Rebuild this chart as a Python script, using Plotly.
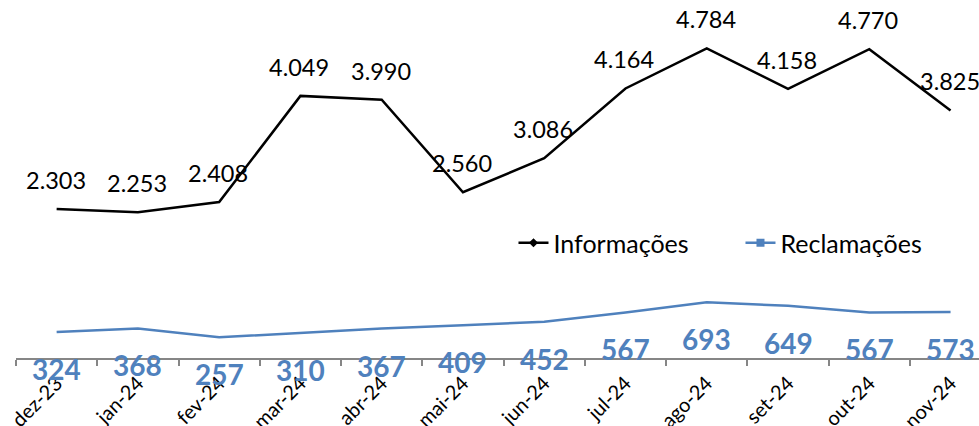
import plotly.graph_objects as go

months = ["dez-23", "jan-24", "fev-24", "mar-24", "abr-24", "mai-24",
          "jun-24", "jul-24", "ago-24", "set-24", "out-24", "nov-24"]
informacoes = [2303, 2253, 2408, 4049, 3990, 2560, 3086, 4164, 4784, 4158, 4770, 3825]
reclamacoes = [324, 368, 257, 310, 367, 409, 452, 567, 693, 649, 567, 573]

BLACK = "#000000"
BLUE = "#4F81BD"
FONT = "Lato"

def fmt(v):
    return f"{v:,}".replace(",", ".")

fig = go.Figure()
fig.add_trace(go.Scatter(x=months, y=informacoes, mode="lines", name="Informações",
                         line=dict(color=BLACK, width=2.5), showlegend=False))
fig.add_trace(go.Scatter(x=months, y=reclamacoes, mode="lines", name="Reclamações",
                         line=dict(color=BLUE, width=2.5), yaxis="y2", showlegend=False))
# legend entries (Excel legend shows markers)
fig.add_trace(go.Scatter(x=[None], y=[None], mode="lines+markers", name="Informações",
                         line=dict(color=BLACK, width=2.5),
                         marker=dict(symbol="diamond", size=7, color=BLACK)))
fig.add_trace(go.Scatter(x=[None], y=[None], mode="lines+markers", name="Reclamações",
                         line=dict(color=BLUE, width=2.5), yaxis="y2",
                         marker=dict(symbol="square", size=8, color=BLUE)))

annotations = []
for m, v in zip(months, informacoes):
    annotations.append(dict(x=m, y=v, xref="x", yref="y", text=fmt(v), showarrow=False,
                            yshift=29, xshift=-1, font=dict(family=FONT, size=23.5, color=BLACK)))
for m, v in zip(months, reclamacoes):
    annotations.append(dict(x=m, y=v, xref="x", yref="y2", text=f"<b>{fmt(v)}</b>", showarrow=False,
                            yshift=-37, font=dict(family=FONT, size=28, color=BLUE)))

fig.update_layout(
    width=979, height=426,
    margin=dict(l=16, r=0, t=0, b=68),
    paper_bgcolor="white", plot_bgcolor="white",
    font=dict(family=FONT, size=20, color=BLACK),
    hovermode=False,
    xaxis=dict(type="category", range=[-0.5, 11.35], showgrid=False, zeroline=False,
               showline=True, linecolor="#868686", linewidth=1.5, automargin=False,
               ticks="outside", ticklen=6, tickcolor="#868686", tickwidth=1.5,
               tickson="boundaries", tickangle=-45, ticklabelstandoff=4,
               tickfont=dict(family=FONT, size=20, color=BLACK)),
    yaxis=dict(range=[0, 5530], visible=False, showgrid=False, zeroline=False, automargin=False),
    yaxis2=dict(range=[0, 4455], overlaying="y", side="right", visible=False,
                showgrid=False, zeroline=False, automargin=False),
    legend=dict(orientation="h", x=0.5166, y=0.3212, xanchor="left", yanchor="middle",
                font=dict(family=FONT, size=25, color=BLACK), bgcolor="rgba(0,0,0,0)",
                entrywidth=182, entrywidthmode="pixels"),
    annotations=annotations,
)

fig.write_html("out.html",
               config={"displayModeBar": False},
               post_script="document.body.style.margin='0';document.body.style.overflow='hidden';")
